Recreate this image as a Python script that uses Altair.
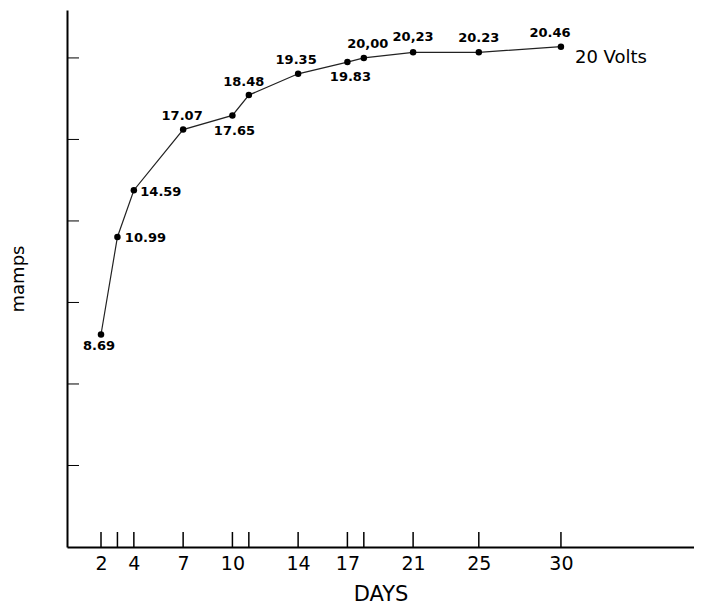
import altair as alt
import pandas as pd

# ---- data ----
days = [2, 3, 4, 7, 10, 11, 14, 17, 18, 21, 25, 30]
printed_values = ["8.69", "10.99", "14.59", "17.07", "17.65", "18.48",
                  "19.35", "19.83", "20,00", "20,23", "20.23", "20.46"]
# vertical positions of the dots as drawn (mamps)
plotted_mamps = [8.69, 12.68, 14.59, 17.07, 17.65, 18.48,
                 19.35, 19.83, 20.00, 20.23, 20.23, 20.46]
x_tick_days = [2, 3, 4, 7, 10, 11, 14, 17, 18, 21, 25, 30]
x_label_days = [2, 4, 7, 10, 14, 17, 21, 25, 30]
y_tick_values = [10 / 3, 20 / 3, 10, 40 / 3, 50 / 3, 20]
series_name = "20 Volts"

# ---- style: label offsets in pixels (dx, dy) ----
label_offsets = [(-2, 12), (28, 1), (27, 2), (-1, -14), (2, 16), (-5, -13),
                 (-2, -14), (3, 15), (4, -14), (0, -15), (0, -14), (-11, -14)]

W, H = 627, 537
FONT = "DejaVu Sans"

df = pd.DataFrame({"day": days, "mamps": plotted_mamps, "label": printed_values})
ticks_x = pd.DataFrame({"day": x_tick_days})
ticks_y = pd.DataFrame({"v": y_tick_values})
last = pd.DataFrame({"day": [days[-1]], "mamps": [plotted_mamps[-1]], "name": [series_name]})

xscale = alt.Scale(domain=[-0.07, 38.1], nice=False, zero=False)
yscale = alt.Scale(domain=[0, 21.96], nice=False, zero=False)

xaxis = alt.Axis(values=x_label_days, ticks=False, grid=False, domainColor="black",
                 domainWidth=2, labelFontSize=19, labelColor="black", labelPadding=7,
                 labelFont=FONT, title="DAYS", titleFontSize=21, titleFontWeight="normal",
                 titleFont=FONT, titleColor="black", titlePadding=10)
yaxis = alt.Axis(labels=False, ticks=False, grid=False, domainColor="black",
                 domainWidth=2, title="mamps", titleFontSize=18, titleFontWeight="normal",
                 titleFont=FONT, titleColor="black", titlePadding=40)

line = alt.Chart(df).mark_line(color="#222", strokeWidth=1.2).encode(
    x=alt.X("day:Q", scale=xscale, axis=xaxis),
    y=alt.Y("mamps:Q", scale=yscale, axis=yaxis),
)
dots = alt.Chart(df).mark_circle(color="black", opacity=1, size=42).encode(
    x=alt.X("day:Q", scale=xscale), y=alt.Y("mamps:Q", scale=yscale))

label_layers = []
for d, (dx, dy) in zip(days, label_offsets):
    label_layers.append(
        alt.Chart(df).transform_filter(alt.datum.day == d).mark_text(
            font=FONT, fontSize=13, fontWeight="bold", color="black",
            baseline="middle", align="center", dx=dx, dy=dy).encode(
            x=alt.X("day:Q", scale=xscale), y=alt.Y("mamps:Q", scale=yscale),
            text="label:N")
    )

xt = alt.Chart(ticks_x).mark_rule(color="black", strokeWidth=1.5).encode(
    x=alt.X("day:Q", scale=xscale), y=alt.value(H), y2=alt.value(H - 15))
yt = alt.Chart(ticks_y).mark_rule(color="black", strokeWidth=1).encode(
    y=alt.Y("v:Q", scale=yscale), x=alt.value(0), x2=alt.value(12))
name = alt.Chart(last).mark_text(font=FONT, fontSize=18, color="black", align="left",
                                 baseline="middle", dx=14, dy=11).encode(
    x=alt.X("day:Q", scale=xscale), y=alt.Y("mamps:Q", scale=yscale), text="name:N")

chart = alt.layer(line, xt, yt, dots, *label_layers, name).properties(
    width=W, height=H,
    autosize=alt.AutoSizeParams(type="none"),
    padding={"left": 59, "top": 2, "right": 0, "bottom": 61},
    background="white",
).configure_view(stroke=None)

chart.save("out.html", embed_options={"renderer": "svg", "actions": False})
